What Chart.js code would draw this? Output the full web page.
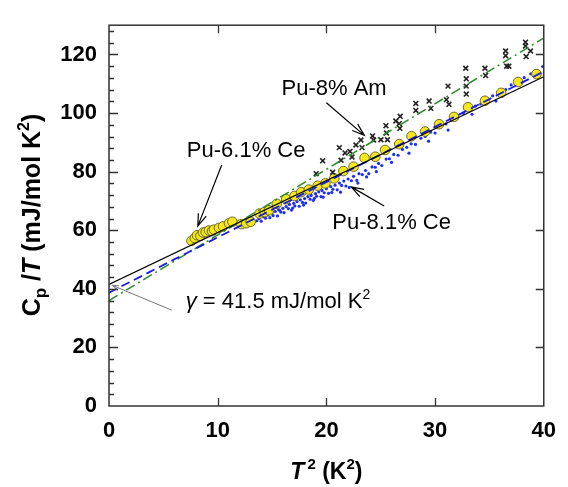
<!DOCTYPE html>
<html>
<head>
<meta charset="utf-8">
<script src="https://cdn.jsdelivr.net/npm/chart.js@4/dist/chart.umd.min.js"></script>
<style>
html,body{margin:0;padding:0;background:#fff;}
#c{display:block;}
</style>
</head>
<body>
<canvas id="c" width="568" height="487"></canvas>
<script>
// ---------- data ----------
const xTickValues = [0, 10, 20, 30, 40];
const yTickValues = [0, 20, 40, 60, 80, 100, 120];

// Pu-6.1% Ce (yellow circles)
const ce61X = [7.59, 7.89, 8.10, 8.41, 8.65, 8.90, 9.20, 9.48, 9.66, 10.12, 10.49, 11.04, 11.35, 12.17, 12.63, 13.03,
  13.85, 14.31, 14.71, 15.44, 16.30, 17.06, 17.68, 18.38, 19.20, 19.91, 20.73, 21.56, 22.50, 23.51, 24.50, 25.40,
  26.70, 27.83, 29.08, 30.37, 31.74, 33.03, 34.59, 36.08, 37.64, 39.33];
const ce61Y = [56.4, 57.3, 58.3, 58.1, 59.2, 59.4, 59.9, 59.7, 60.2, 60.8, 61.3, 62.4, 62.9, 62.1, 62.4, 62.9,
  65.7, 66.2, 66.8, 69.0, 70.6, 71.7, 73.0, 73.9, 75.2, 76.0, 77.7, 80.2, 81.7, 84.7, 85.1, 87.4,
  89.4, 92.1, 93.7, 96.2, 98.7, 102.0, 104.2, 106.9, 110.6, 113.3];

// Pu-8.1% Ce (blue dots)
const ce81X = [13.6, 13.8, 14.0, 14.2, 14.4, 14.6, 14.8, 15.0, 15.1, 15.3, 15.5, 15.6, 15.8, 16.0, 16.1, 16.3,
  16.5, 16.6, 16.8, 17.0, 17.1, 17.3, 17.5, 17.6, 17.8, 18.0, 18.1, 18.3, 18.5, 18.6, 18.8, 19.0, 19.1, 19.3,
  19.5, 19.6, 19.8, 20.0, 20.2, 20.4, 20.6, 20.8, 21.0, 21.2, 21.4, 21.6, 21.8, 22.0, 22.3, 22.5, 22.8, 23.0,
  23.3, 23.6, 23.9, 24.2, 24.5, 24.8, 25.1, 25.5, 25.8, 26.2, 26.6, 27.0, 27.4, 27.8, 28.2, 28.7, 29.1, 29.6,
  30.0, 30.5, 31.0, 31.5, 32.0, 32.6, 33.1, 33.7, 34.2, 34.8, 35.3, 35.9, 36.5, 37.0, 37.6, 38.2, 38.8, 39.4, 39.9,
  15.7, 16.9, 17.9, 18.9, 19.7, 20.5, 21.3, 22.1, 22.9, 23.7, 24.6, 26.0, 27.6, 29.4, 31.2, 33.4, 35.6];
const ce81Y = [63.2, 64.0, 63.1, 64.6, 64.1, 65.2, 64.3, 65.9, 65.0, 66.4, 64.9, 67.0, 66.2, 67.5, 66.0, 68.1,
  67.4, 68.8, 66.9, 69.2, 68.3, 69.8, 68.2, 70.4, 69.5, 70.8, 69.3, 71.5, 70.6, 71.9, 70.2, 72.5, 71.6, 73.1,
  71.5, 73.6, 72.8, 74.2, 72.6, 74.9, 74.0, 75.4, 73.8, 76.1, 75.3, 76.8, 75.1, 77.5, 76.9, 78.4, 77.0, 79.3,
  79.0, 80.4, 79.3, 81.6, 81.5, 82.8, 82.1, 84.3, 84.4, 85.9, 85.6, 87.6, 88.3, 89.5, 89.3, 91.4, 92.0, 93.5,
  93.2, 95.4, 96.3, 97.6, 98.1, 100.0, 101.0, 102.4, 103.1, 104.7, 105.9, 107.2, 108.0, 109.6, 110.7, 112.1, 113.4, 114.6, 115.9,
  66.8, 67.6, 68.6, 70.9, 71.3, 72.9, 73.0, 74.6, 76.1, 78.2, 80.0, 83.2, 86.3, 90.4, 94.2, 99.6, 104.1];

// Pu-8% Am (black crosses)
const am8X = [19.06, 19.66, 20.58, 21.19, 21.35, 21.72, 22.17, 22.36, 22.72, 23.18, 23.28, 24.25, 24.34, 25.02,
  25.62, 25.48, 25.53, 26.39, 26.79, 26.70, 26.76, 28.23, 28.23, 29.45, 29.61, 31.04, 31.19, 31.28, 32.82,
  32.87, 32.87, 32.87, 34.59, 34.65, 36.49, 36.49, 36.58, 36.79, 38.32, 38.32, 38.38, 38.78];
const am8Y = [79.3, 83.7, 79.8, 88.2, 83.9, 86.4, 86.9, 85.0, 89.1, 90.8, 88.2, 92.2, 90.8, 90.9,
  90.9, 95.7, 93.2, 97.3, 98.9, 96.4, 94.8, 103.3, 100.9, 104.1, 101.6, 104.6, 109.2, 103.0, 115.3,
  111.7, 109.2, 106.5, 115.3, 112.8, 121.2, 119.6, 116.0, 116.0, 124.2, 122.9, 119.3, 121.2];

// linear fits (T^2 = 0 and 40)
const fitX = [0, 40];
const fitCe61 = [41.5, 112.4];
const fitCe81 = [38.7, 114.2];
const fitAm8 = [36.0, 125.6];

// ---------- helpers ----------
const FONT = '"Liberation Sans", Arial, Helvetica, sans-serif';
const pts = (xs, ys) => xs.map((x, i) => ({x: x, y: ys[i]}));

function drawRich(ctx, parts, x, y, align) {
  let total = 0;
  parts.forEach(p => {
    ctx.font = (p.style || '') + ' ' + (p.weight || 'normal') + ' ' + p.size + 'px ' + FONT;
    p.w = ctx.measureText(p.t).width + (p.gap || 0);
    total += p.w;
  });
  let cx = align === 'center' ? x - total / 2 : x;
  ctx.textBaseline = 'alphabetic';
  ctx.textAlign = 'left';
  parts.forEach(p => {
    ctx.font = (p.style || '') + ' ' + (p.weight || 'normal') + ' ' + p.size + 'px ' + FONT;
    ctx.fillText(p.t, cx, y + (p.dy || 0));
    cx += p.w;
  });
}

function arrow(ctx, x1, y1, x2, y2, color, lw, head) {
  ctx.save();
  ctx.strokeStyle = color;
  ctx.lineWidth = lw;
  ctx.beginPath();
  ctx.moveTo(x1, y1);
  ctx.lineTo(x2, y2);
  if (head > 0) {
    const a = Math.atan2(y2 - y1, x2 - x1);
    const s = 0.33;
    ctx.moveTo(x2 - head * Math.cos(a - s), y2 - head * Math.sin(a - s));
    ctx.lineTo(x2, y2);
    ctx.lineTo(x2 - head * Math.cos(a + s), y2 - head * Math.sin(a + s));
  }
  ctx.stroke();
  ctx.restore();
}

// annotations in data coordinates
const labels = [
  {text: 'Pu-8% Am', x: 15.87, y: 106.2, from: [20.0, 103.5], to: [23.49, 92.4]},
  {text: 'Pu-6.1% Ce', x: 7.16, y: 84.9, from: [10.37, 82.3], to: [8.17, 61.4]},
  {text: 'Pu-8.1% Ce', x: 20.55, y: 60.4, from: [25.32, 68.3], to: [22.29, 74.8]}
];

const deco = {
  id: 'deco',
  afterDatasetsDraw(chart) {
    const {ctx, chartArea: a, scales: {x, y}} = chart;
    ctx.save();
    // frame
    ctx.strokeStyle = '#333';
    ctx.lineWidth = 1.5;
    ctx.strokeRect(a.left, a.top, a.right - a.left, a.bottom - a.top);
    // ticks
    ctx.lineWidth = 1.3;
    ctx.beginPath();
    for (let v = 4; v < 130; v += 4) {
      const py = Math.round(y.getPixelForValue(v)) + 0.5;
      const major = v % 20 === 0;
      ctx.moveTo(a.left, py);
      ctx.lineTo(a.left + (major ? 9 : 5), py);
      if (major) { ctx.moveTo(a.right, py); ctx.lineTo(a.right - 8, py); }
    }
    [10, 20, 30].forEach(v => {
      const px = Math.round(x.getPixelForValue(v)) + 0.5;
      ctx.moveTo(px, a.top); ctx.lineTo(px, a.top + 8);
      ctx.moveTo(px, a.bottom); ctx.lineTo(px, a.bottom - 8);
    });
    ctx.stroke();

    // annotations
    ctx.fillStyle = '#000';
    labels.forEach(l => {
      drawRich(ctx, [{t: l.text, size: 22}], x.getPixelForValue(l.x), y.getPixelForValue(l.y), 'left');
      arrow(ctx, x.getPixelForValue(l.from[0]), y.getPixelForValue(l.from[1]),
        x.getPixelForValue(l.to[0]), y.getPixelForValue(l.to[1]), '#000', 1.2, 13);
    });
    // gamma label
    drawRich(ctx, [
      {t: 'γ', size: 22, style: 'italic'},
      {t: ' = 41.5 mJ/mol K', size: 22},
      {t: '2', size: 14, dy: -9}
    ], x.getPixelForValue(7.06), y.getPixelForValue(33.6), 'left');
    arrow(ctx, x.getPixelForValue(5.78), y.getPixelForValue(32.7),
      x.getPixelForValue(0.3), y.getPixelForValue(41.2), '#777', 1, 7);

    // x title
    drawRich(ctx, [
      {t: 'T', size: 23, weight: 'bold', style: 'italic', gap: 3},
      {t: '2', size: 15, weight: 'bold', dy: -10},
      {t: ' (K', size: 23, weight: 'bold'},
      {t: '2', size: 15, weight: 'bold', dy: -10},
      {t: ')', size: 23, weight: 'bold'}
    ], x.getPixelForValue(20), 479, 'center');

    // y title (rotated)
    ctx.save();
    ctx.translate(40, 215);
    ctx.rotate(-Math.PI / 2);
    drawRich(ctx, [
      {t: 'C', size: 25, weight: 'bold'},
      {t: 'p', size: 17, weight: 'bold', dy: 6},
      {t: ' /', size: 25, weight: 'bold'},
      {t: 'T', size: 25, weight: 'bold', style: 'italic'},
      {t: ' (mJ/mol K', size: 25, weight: 'bold'},
      {t: '2', size: 16, weight: 'bold', dy: -11},
      {t: ')', size: 25, weight: 'bold'}
    ], 0, 0, 'center');
    ctx.restore();
    ctx.restore();
  }
};

const tickFont = {family: FONT, size: 22, weight: 'bold'};

new Chart(document.getElementById('c'), {
  type: 'scatter',
  data: {
    datasets: [
      {label: 'fit Pu-6.1% Ce', type: 'line', data: pts(fitX, fitCe61), borderColor: '#000', borderWidth: 1.2,
        pointRadius: 0, fill: false, order: 1},
      {label: 'fit Pu-8.1% Ce', type: 'line', data: pts(fitX, fitCe81), borderColor: '#1a1ae6', borderWidth: 1.8,
        borderDash: [9, 5], pointRadius: 0, fill: false, order: 2},
      {label: 'fit Pu-8% Am', type: 'line', data: pts(fitX, fitAm8), borderColor: '#2a8a2a', borderWidth: 1.5,
        borderDash: [10, 4, 2, 4], pointRadius: 0, fill: false, order: 3},
      {label: 'Pu-8% Am', data: pts(am8X, am8Y), pointStyle: 'crossRot', pointRadius: 3.4,
        borderColor: '#222', borderWidth: 1.6, order: 4},
      {label: 'Pu-6.1% Ce', data: pts(ce61X, ce61Y), pointStyle: 'circle', pointRadius: 4.8,
        backgroundColor: '#f4e81c', borderColor: '#6e6a2a', borderWidth: 1, order: 5},
      {label: 'Pu-8.1% Ce', data: pts(ce81X, ce81Y), pointStyle: 'circle', pointRadius: 1.6,
        backgroundColor: '#1f2ff0', borderColor: '#1f2ff0', borderWidth: 0, order: 6}
    ]
  },
  options: {
    responsive: false,
    devicePixelRatio: 1,
    animation: false,
    layout: {padding: {top: 8, right: 23, left: 0, bottom: 0}},
    plugins: {legend: {display: false}, tooltip: {enabled: false}},
    scales: {
      x: {
        type: 'linear', min: 0, max: 40,
        ticks: {stepSize: 10, includeBounds: false, font: tickFont, color: '#000', padding: 12, maxRotation: 0},
        grid: {display: false, drawTicks: false},
        border: {display: false},
        afterFit(s) { s.height = 81; }
      },
      y: {
        type: 'linear', min: 0, max: 130,
        ticks: {stepSize: 20, includeBounds: false, font: tickFont, color: '#000', padding: 12},
        grid: {display: false, drawTicks: false},
        border: {display: false},
        afterFit(s) { s.width = 109; }
      }
    }
  },
  plugins: [deco]
});
</script>
</body>
</html>
